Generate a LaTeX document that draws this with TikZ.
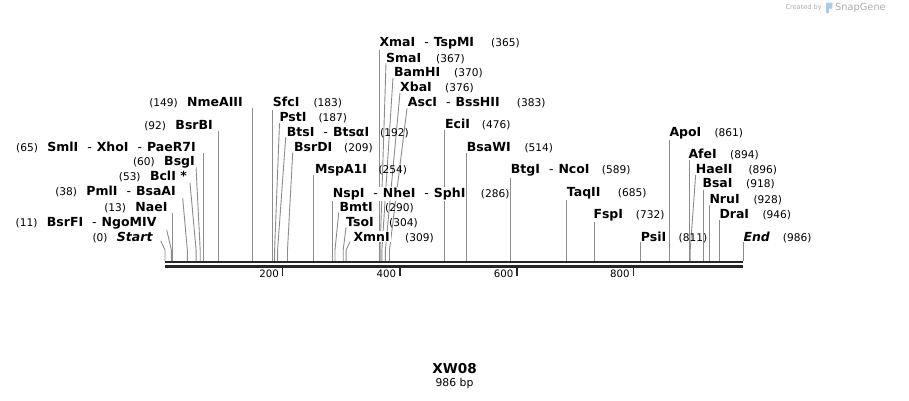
\documentclass[tikz,border=0pt]{standalone}
\usepackage{fontspec}
\setmainfont{DejaVu Sans}
\usetikzlibrary{positioning}

\definecolor{seqgray}{HTML}{262626}
\definecolor{cutgray}{HTML}{8C8C8C}
\definecolor{markgray}{HTML}{ABABAB}
\definecolor{sgblue}{HTML}{A9CBEA}

\newcommand{\cutsep}{\hspace{9pt}{\mdseries -}\hspace{5pt}}

\begin{document}
\begin{tikzpicture}[x=1pt,y=-1pt,
        enz/.style={font=\bfseries\fontsize{12.5}{12.5}\selectfont, fill=white, inner sep=1pt},
        num/.style={font=\fontsize{10.6}{10.6}\selectfont, inner sep=0pt},
        cut/.style={draw=cutgray, line width=0.9pt},
        seq/.style={draw=seqgray, line width=2.7pt},
        tick/.style={draw=seqgray, line width=1.6pt},
        ticklabel/.style={font=\fontsize{10.2}{10.2}\selectfont, inner sep=0pt, anchor=base east}]
    \useasboundingbox (0,0) rectangle (909,400);

    % sites on the map, feet of the labels
    \coordinate (kink) at (0,250);
    \coordinate (start-s) at (165,261);   \coordinate (start-f) at (160.7,240.7);
    \coordinate (bsrfi-s) at (171.4,261); \coordinate (bsrfi-f) at (166.7,230);
    \coordinate (nae-s) at (172.6,261);   \coordinate (nae-f) at (172.6,213);
    \coordinate (pml-s) at (187.3,261);   \coordinate (pml-f) at (182.7,198);
    \coordinate (bcl-s) at (196.1,261);   \coordinate (bcl-f) at (190,183);
    \coordinate (bsg-s) at (200.2,261);   \coordinate (bsg-f) at (196,167);
    \coordinate (sml-s) at (203.1,261);   \coordinate (sml-f) at (203.1,153);
    \coordinate (bsrbi-s) at (218.9,261); \coordinate (bsrbi-f) at (218.9,131);
    \coordinate (nme-s) at (252.3,261);   \coordinate (nme-f) at (252.3,108);
    \coordinate (sfc-s) at (272.3,261);   \coordinate (sfc-f) at (272.3,110);
    \coordinate (pst-s) at (274.6,261);   \coordinate (pst-f) at (279.5,123);
    \coordinate (bts-s) at (277.6,261);   \coordinate (bts-f) at (285.7,137.3);
    \coordinate (bsrdi-s) at (287.5,261); \coordinate (bsrdi-f) at (292.7,152.7);
    \coordinate (msp-s) at (313.9,261);   \coordinate (msp-f) at (313.9,175);
    \coordinate (nsp-s) at (332.7,261);   \coordinate (nsp-f) at (332.7,198);
    \coordinate (bmt-s) at (335,261);     \coordinate (bmt-f) at (338.7,212.7);
    \coordinate (tso-s) at (343.2,261);   \coordinate (tso-f) at (346,227.3);
    \coordinate (xmn-s) at (346.1,261);   \coordinate (xmn-f) at (350,241.7);
    \coordinate (xma-s) at (379,261);     \coordinate (xma-f) at (379,49);
    \coordinate (sma-s) at (380.1,261);   \coordinate (sma-f) at (386,63.3);
    \coordinate (bam-s) at (381.9,261);   \coordinate (bam-f) at (393,77.7);
    \coordinate (xba-s) at (385.4,261);   \coordinate (xba-f) at (400,92.7);
    \coordinate (asc-s) at (389.5,261);   \coordinate (asc-f) at (407,108.3);
    \coordinate (eci-s) at (444,261);     \coordinate (eci-f) at (444,130);
    \coordinate (bsaw-s) at (466.3,261);  \coordinate (bsaw-f) at (466.3,153);
    \coordinate (btg-s) at (510.3,261);   \coordinate (btg-f) at (510.3,176);
    \coordinate (taq-s) at (566.6,261);   \coordinate (taq-f) at (566.6,198);
    \coordinate (fsp-s) at (594.1,261);   \coordinate (fsp-f) at (594.1,220);
    \coordinate (psi-s) at (640.4,261);   \coordinate (psi-f) at (640.4,241.7);
    \coordinate (apo-s) at (669.7,261);   \coordinate (apo-f) at (669.7,138);
    \coordinate (afe-s) at (689.1,261);   \coordinate (afe-f) at (689.1,160);
    \coordinate (hae-s) at (690.2,261);   \coordinate (hae-f) at (695.7,174.3);
    \coordinate (bsai-s) at (703.1,261);  \coordinate (bsai-f) at (703.1,190);
    \coordinate (nru-s) at (709,261);     \coordinate (nru-f) at (709,205);
    \coordinate (dra-s) at (719.5,261);   \coordinate (dra-f) at (719.5,220);
    \coordinate (end-s) at (743,261);     \coordinate (end-f) at (743,241.7);

    % cut lines
    \draw[cut] (start-s) -- (start-s |- kink) -- (start-f);
    \draw[cut] (bsrfi-s) -- (bsrfi-s |- kink) -- (bsrfi-f);
    \draw[cut] (nae-s) -- (nae-f);
    \draw[cut] (pml-s) -- (pml-s |- kink) -- (pml-f);
    \draw[cut] (bcl-s) -- (bcl-s |- kink) -- (bcl-f);
    \draw[cut] (bsg-s) -- (bsg-s |- kink) -- (bsg-f);
    \draw[cut] (sml-s) -- (sml-f);
    \draw[cut] (bsrbi-s) -- (bsrbi-f);
    \draw[cut] (nme-s) -- (nme-f);
    \draw[cut] (sfc-s) -- (sfc-f);
    \draw[cut] (pst-s) -- (pst-s |- kink) -- (pst-f);
    \draw[cut] (bts-s) -- (bts-s |- kink) -- (bts-f);
    \draw[cut] (bsrdi-s) -- (bsrdi-s |- kink) -- (bsrdi-f);
    \draw[cut] (msp-s) -- (msp-f);
    \draw[cut] (nsp-s) -- (nsp-f);
    \draw[cut] (bmt-s) -- (bmt-s |- kink) -- (bmt-f);
    \draw[cut] (tso-s) -- (tso-s |- kink) -- (tso-f);
    \draw[cut] (xmn-s) -- (xmn-s |- kink) -- (xmn-f);
    \draw[cut] (xma-s) -- (xma-f);
    \draw[cut] (sma-s) -- (sma-s |- kink) -- (sma-f);
    \draw[cut] (bam-s) -- (bam-s |- kink) -- (bam-f);
    \draw[cut] (xba-s) -- (xba-s |- kink) -- (xba-f);
    \draw[cut] (asc-s) -- (asc-s |- kink) -- (asc-f);
    \draw[cut] (eci-s) -- (eci-f);
    \draw[cut] (bsaw-s) -- (bsaw-f);
    \draw[cut] (btg-s) -- (btg-f);
    \draw[cut] (taq-s) -- (taq-f);
    \draw[cut] (fsp-s) -- (fsp-f);
    \draw[cut] (psi-s) -- (psi-f);
    \draw[cut] (apo-s) -- (apo-f);
    \draw[cut] (afe-s) -- (afe-f);
    \draw[cut] (hae-s) -- (hae-s |- kink) -- (hae-f);
    \draw[cut] (bsai-s) -- (bsai-f);
    \draw[cut] (nru-s) -- (nru-f);
    \draw[cut] (dra-s) -- (dra-f);
    \draw[cut] (end-s) -- (end-f);

    % labels left of the map
    \node[enz,anchor=base east] (start) at (153.7,241.2) {\itshape Start};
    \node[num,anchor=base east] (start-n) at ([xshift=-8pt]start.base west) {(0)};
    \node[enz,anchor=base east] (bsrfi) at (157.7,226.2) {BsrFI\cutsep NgoMIV};
    \node[num,anchor=base east] (bsrfi-n) at ([xshift=-8pt]bsrfi.base west) {(11)};
    \node[enz,anchor=base east] (nae) at (168.7,211.2) {NaeI};
    \node[num,anchor=base east] (nae-n) at ([xshift=-8pt]nae.base west) {(13)};
    \node[enz,anchor=base east] (pml) at (177,195.5) {PmlI\cutsep BsaAI};
    \node[num,anchor=base east] (pml-n) at ([xshift=-8pt]pml.base west) {(38)};
    \node[enz,anchor=base east] (bcl) at (188,180.5) {BclI *};
    \node[num,anchor=base east] (bcl-n) at ([xshift=-8pt]bcl.base west) {(53)};
    \node[enz,anchor=base east] (bsg) at (196,165.5) {BsgI};
    \node[num,anchor=base east] (bsg-n) at ([xshift=-8pt]bsg.base west) {(60)};
    \node[enz,anchor=base east] (sml) at (197,151.2) {SmlI\cutsep XhoI\cutsep PaeR7I};
    \node[num,anchor=base east] (sml-n) at ([xshift=-8pt]sml.base west) {(65)};
    \node[enz,anchor=base east] (bsrbi) at (214,129.5) {BsrBI};
    \node[num,anchor=base east] (bsrbi-n) at ([xshift=-8pt]bsrbi.base west) {(92)};
    \node[enz,anchor=base east] (nme) at (244,106.5) {NmeAIII};
    \node[num,anchor=base east] (nme-n) at ([xshift=-8pt]nme.base west) {(149)};

    % labels right of their sites
    \node[enz,anchor=base west] (sfc) at (271.7,106.8) {SfcI};
    \node[num,anchor=base west] (sfc-n) at (313.3,106.8) {(183)};
    \node[enz,anchor=base west] (pst) at (278.3,121.8) {PstI};
    \node[num,anchor=base west] (pst-n) at (318.3,121.8) {(187)};
    \node[enz,anchor=base west] (bts) at (285.7,136.2) {BtsI\cutsep BtsαI};
    \node[num,anchor=base west] (bts-n) at (380,136.2) {(192)};
    \node[enz,anchor=base west] (bsrdi) at (293,151.8) {BsrDI};
    \node[num,anchor=base west] (bsrdi-n) at (344,151.8) {(209)};
    \node[enz,anchor=base west] (msp) at (314,173.8) {MspA1I};
    \node[num,anchor=base west] (msp-n) at (378.3,173.8) {(254)};
    \node[enz,anchor=base west] (nsp) at (331.7,197.2) {NspI\cutsep NheI\cutsep SphI};
    \node[num,anchor=base west] (nsp-n) at (480.7,197.2) {(286)};
    \node[enz,anchor=base west] (bmt) at (338.3,211.2) {BmtI};
    \node[num,anchor=base west] (bmt-n) at (385,211.2) {(290)};
    \node[enz,anchor=base west] (tso) at (345,226.2) {TsoI};
    \node[num,anchor=base west] (tso-n) at (389,226.2) {(304)};
    \node[enz,anchor=base west] (xmn) at (352.3,241.2) {XmnI};
    \node[num,anchor=base west] (xmn-n) at (405,241.2) {(309)};
    \node[enz,anchor=base west] (xma) at (378.3,46.8) {XmaI\cutsep TspMI};
    \node[num,anchor=base west] (xma-n) at (491,46.8) {(365)};
    \node[enz,anchor=base west] (sma) at (385,62.2) {SmaI};
    \node[num,anchor=base west] (sma-n) at (436,62.2) {(367)};
    \node[enz,anchor=base west] (bam) at (393,76.8) {BamHI};
    \node[num,anchor=base west] (bam-n) at (454,76.8) {(370)};
    \node[enz,anchor=base west] (xba) at (399,91.8) {XbaI};
    \node[num,anchor=base west] (xba-n) at (445,91.8) {(376)};
    \node[enz,anchor=base west] (asc) at (406.7,106.8) {AscI\cutsep BssHII};
    \node[num,anchor=base west] (asc-n) at (516.7,106.8) {(383)};
    \node[enz,anchor=base west] (eci) at (444,128.5) {EciI};
    \node[num,anchor=base west] (eci-n) at (481.7,128.5) {(476)};
    \node[enz,anchor=base west] (bsaw) at (465.7,151.8) {BsaWI};
    \node[num,anchor=base west] (bsaw-n) at (524.3,151.8) {(514)};
    \node[enz,anchor=base west] (btg) at (509.7,173.8) {BtgI\cutsep NcoI};
    \node[num,anchor=base west] (btg-n) at (601.7,173.8) {(589)};
    \node[enz,anchor=base west] (taq) at (565.7,196.2) {TaqII};
    \node[num,anchor=base west] (taq-n) at (617.7,196.2) {(685)};
    \node[enz,anchor=base west] (fsp) at (592.3,218.5) {FspI};
    \node[num,anchor=base west] (fsp-n) at (635.7,218.5) {(732)};
    \node[enz,anchor=base west] (psi) at (639.7,241.2) {PsiI};
    \node[num,anchor=base west] (psi-n) at (678.5,241.2) {(811)};
    \node[enz,anchor=base west] (apo) at (668.3,136.8) {ApoI};
    \node[num,anchor=base west] (apo-n) at (714.3,136.8) {(861)};
    \node[enz,anchor=base west] (afe) at (687.3,158.5) {AfeI};
    \node[num,anchor=base west] (afe-n) at (730,158.5) {(894)};
    \node[enz,anchor=base west] (hae) at (694.7,173.5) {HaeII};
    \node[num,anchor=base west] (hae-n) at (748.3,173.5) {(896)};
    \node[enz,anchor=base west] (bsai) at (701.3,187.8) {BsaI};
    \node[num,anchor=base west] (bsai-n) at (746,187.8) {(918)};
    \node[enz,anchor=base west] (nru) at (708.3,203.5) {NruI};
    \node[num,anchor=base west] (nru-n) at (753.3,203.5) {(928)};
    \node[enz,anchor=base west] (dra) at (718.3,218.5) {DraI};
    \node[num,anchor=base west] (dra-n) at (762.3,218.5) {(946)};
    \node[enz,anchor=base west] (end) at (742.3,241.2) {\itshape End};
    \node[num,anchor=base west] (end-n) at (782.7,241.2) {(986)};

    % the sequence and its ruler
    \coordinate (seq-l) at (165,262);
    \coordinate (seq-r) at (743,262);
    \draw[seq] (seq-l) -- (seq-r);
    \draw[seq] ([yshift=-4.4pt]seq-l) -- ([yshift=-4.4pt]seq-r);
    \coordinate (t200) at (282.6,267);
    \coordinate (t400) at (399.9,267);
    \coordinate (t600) at (517.1,267);
    \coordinate (t800) at (633.4,267);
    \draw[tick] (t200) -- ++(0,9);
    \draw[tick] (t400) -- ++(0,9);
    \draw[tick] (t600) -- ++(0,9);
    \draw[tick] (t800) -- ++(0,9);
    \node[ticklabel] (t200-l) at ([xshift=-3.5pt,yshift=-10.8pt]t200) {200};
    \node[ticklabel] (t400-l) at ([xshift=-3.5pt,yshift=-10.8pt]t400) {400};
    \node[ticklabel] (t600-l) at ([xshift=-3.5pt,yshift=-10.8pt]t600) {600};
    \node[ticklabel] (t800-l) at ([xshift=-3.5pt,yshift=-10.8pt]t800) {800};

    % name and length
    \node[font=\bfseries\fontsize{13.6}{13.6}\selectfont] (title) at (454.5,368.5) {XW08};
    \node[font=\fontsize{10.8}{10.8}\selectfont] (length) at (454.5,383.5) {986 bp};

    % credit
    \node[font=\fontsize{6.6}{6.6}\selectfont, text=markgray, anchor=east, inner sep=0pt] (made) at (822,7.8) {Created by};
    \fill[sgblue, rounded corners=0.8pt] (826,2.5) rectangle (829.2,13);
    \fill[sgblue, rounded corners=0.8pt] (829.2,2.5) rectangle (832.4,8.8);
    \node[font=\fontsize{9.8}{9.8}\selectfont, text=markgray, anchor=west, inner sep=0pt] (snapgene) at (835,7.8) {SnapGene};
\end{tikzpicture}
\end{document}
